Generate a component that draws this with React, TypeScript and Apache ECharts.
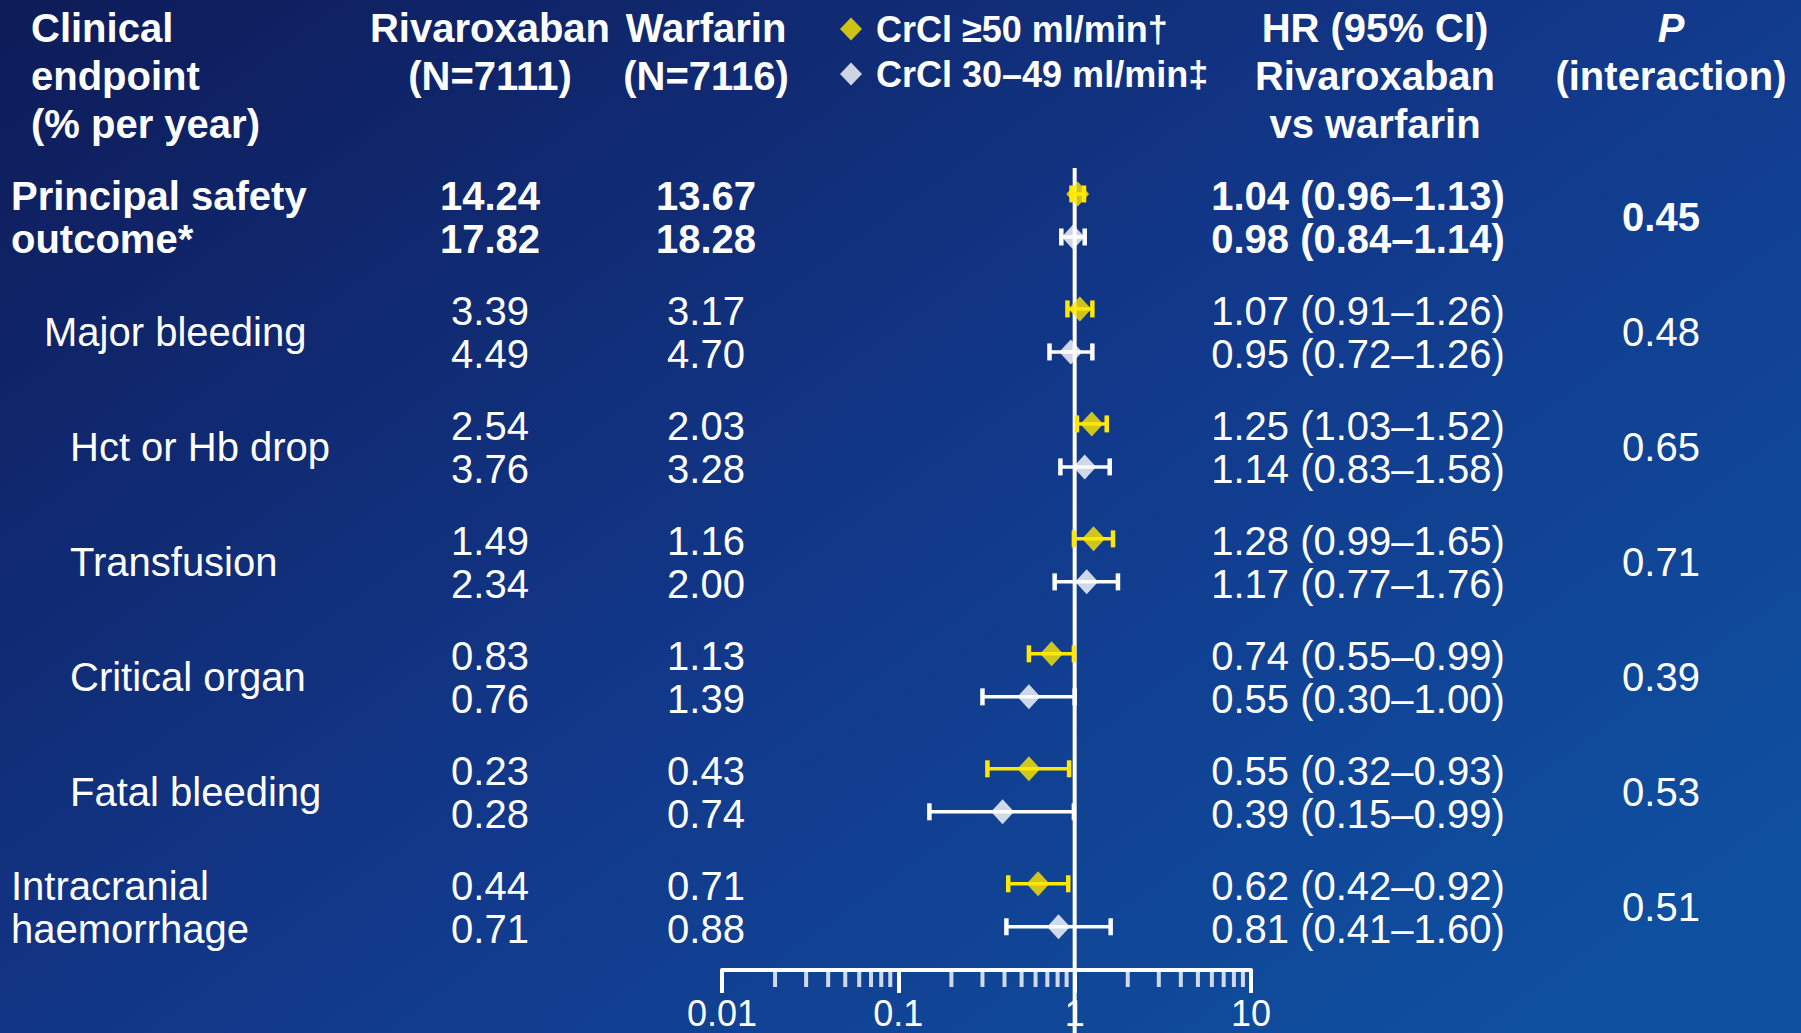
import React, { useEffect, useRef } from 'react';
import * as echarts from 'echarts';

// ---------- data ----------
const endpointLines = [
  ['Principal safety', 'outcome*'],
  ['Major bleeding'],
  ['Hct or Hb drop'],
  ['Transfusion'],
  ['Critical organ'],
  ['Fatal bleeding'],
  ['Intracranial', 'haemorrhage'],
];
const endpointLevel = [0, 1, 2, 2, 2, 2, 0];
const rivaroxabanHigh = ['14.24', '3.39', '2.54', '1.49', '0.83', '0.23', '0.44'];
const rivaroxabanLow = ['17.82', '4.49', '3.76', '2.34', '0.76', '0.28', '0.71'];
const warfarinHigh = ['13.67', '3.17', '2.03', '1.16', '1.13', '0.43', '0.71'];
const warfarinLow = ['18.28', '4.70', '3.28', '2.00', '1.39', '0.74', '0.88'];
const hrHigh = [1.04, 1.07, 1.25, 1.28, 0.74, 0.55, 0.62];
const loHigh = [0.96, 0.91, 1.03, 0.99, 0.55, 0.32, 0.42];
const hiHigh = [1.13, 1.26, 1.52, 1.65, 0.99, 0.93, 0.92];
const hrLow = [0.98, 0.95, 1.14, 1.17, 0.55, 0.39, 0.81];
const loLow = [0.84, 0.72, 0.83, 0.77, 0.3, 0.15, 0.41];
const hiLow = [1.14, 1.26, 1.58, 1.76, 1.0, 0.99, 1.6];
const pInteraction = ['0.45', '0.48', '0.65', '0.71', '0.39', '0.53', '0.51'];
const minorTicks = [
  0.02, 0.03, 0.04, 0.05, 0.06, 0.07, 0.08, 0.09,
  0.2, 0.3, 0.4, 0.5, 0.6, 0.7, 0.8, 0.9,
  2, 3, 4, 5, 6, 7, 8, 9,
];
const seriesNames = ['CrCl \u226550 ml/min\u2020', 'CrCl 30\u201349 ml/min\u2021'];

// ---------- layout/style ----------
const FONT = '"Liberation Sans", Arial, Helvetica, sans-serif';
const YELLOW = '#ffe800';
const WHITE = '#ffffff';
const PAIR = 0.374;
const Y_MIN = -1;
const Y_MAX = 6.75;
const GRID_TOP = 79;
const GRID_H = 891;

const fmt = (v: number) => v.toFixed(2);
const hrText = (h: number, l: number, u: number) => `${fmt(h)} (${fmt(l)}\u2013${fmt(u)})`;

type TextItem = { x: number; v: number; text: string; align: string; bold: boolean };

function buildTextItems(): TextItem[] {
  const items: TextItem[] = [];
  const levelX = [11, 44, 70];
  endpointLines.forEach((lines, i) => {
    const bold = i === 0;
    if (lines.length === 2) {
      items.push({ x: levelX[endpointLevel[i]], v: i, text: lines[0], align: 'left', bold });
      items.push({ x: levelX[endpointLevel[i]], v: i + PAIR, text: lines[1], align: 'left', bold });
    } else {
      items.push({ x: levelX[endpointLevel[i]], v: i + PAIR / 2, text: lines[0], align: 'left', bold });
    }
    items.push({ x: 490, v: i, text: rivaroxabanHigh[i], align: 'center', bold });
    items.push({ x: 490, v: i + PAIR, text: rivaroxabanLow[i], align: 'center', bold });
    items.push({ x: 706, v: i, text: warfarinHigh[i], align: 'center', bold });
    items.push({ x: 706, v: i + PAIR, text: warfarinLow[i], align: 'center', bold });
    items.push({ x: 1358, v: i, text: hrText(hrHigh[i], loHigh[i], hiHigh[i]), align: 'center', bold });
    items.push({ x: 1358, v: i + PAIR, text: hrText(hrLow[i], loLow[i], hiLow[i]), align: 'center', bold });
    items.push({ x: 1661, v: i + PAIR / 2, text: pInteraction[i], align: 'center', bold });
  });
  return items;
}

function headerText(x: number, y: number, text: string, align: string, italic = false) {
  return {
    type: 'text',
    x,
    y,
    silent: true,
    style: {
      text,
      fill: WHITE,
      fontSize: 40,
      fontWeight: 'bold',
      fontStyle: italic ? 'italic' : 'normal',
      fontFamily: FONT,
      align,
      verticalAlign: 'middle',
    },
  };
}

function errorBarSeries(name: string, lo: number[], hi: number[], offset: number, color: string) {
  return {
    type: 'custom',
    name: name + ' CI',
    xAxisIndex: 0,
    yAxisIndex: 0,
    z: 3,
    silent: true,
    clip: false,
    encode: { x: [0, 1], y: 2 },
    data: lo.map((l, i) => [l, hi[i], i + offset]),
    renderItem: (params: any, api: any) => {
      const a = api.coord([api.value(0), api.value(2)]);
      const b = api.coord([api.value(1), api.value(2)]);
      const cap = 8.5;
      return {
        type: 'group',
        children: [
          { type: 'line', shape: { x1: a[0], y1: a[1], x2: b[0], y2: b[1] }, style: { stroke: color, lineWidth: 3.5 } },
          { type: 'line', shape: { x1: a[0], y1: a[1] - cap, x2: a[0], y2: a[1] + cap }, style: { stroke: color, lineWidth: 4.5 } },
          { type: 'line', shape: { x1: b[0], y1: b[1] - cap, x2: b[0], y2: b[1] + cap }, style: { stroke: color, lineWidth: 4.5 } },
        ],
      };
    },
  };
}

export default function App() {
  const ref = useRef<HTMLDivElement>(null);

  useEffect(() => {
    if (!ref.current) return;
    const chart = echarts.init(ref.current, undefined, { renderer: 'svg' });
    const textItems = buildTextItems();

    const option: any = {
      animation: false,
      backgroundColor: new echarts.graphic.LinearGradient(0, 0, 1, 0.8, [
        { offset: 0, color: '#0e1b58' },
        { offset: 0.55, color: '#12388a' },
        { offset: 1, color: '#0f4fa0' },
      ]),
      legend: {
        orient: 'vertical',
        left: 835,
        top: 3,
        itemWidth: 22,
        itemHeight: 23,
        itemGap: 3,
        icon: 'diamond',
        selectedMode: false,
        data: seriesNames,
        textStyle: {
          color: WHITE,
          fontSize: 36,
          fontWeight: 'bold',
          fontFamily: FONT,
          lineHeight: 42,
          padding: [0, 0, 0, 9],
        },
      },
      grid: [
        { left: 722, width: 529, top: GRID_TOP, height: GRID_H },
        { left: 0, width: 1801, top: GRID_TOP, height: GRID_H },
      ],
      xAxis: [
        {
          type: 'log',
          logBase: 10,
          min: 0.01,
          max: 10,
          gridIndex: 0,
          position: 'bottom',
          splitLine: { show: false },
          axisLine: { show: true, onZero: false, lineStyle: { color: WHITE, width: 4 } },
          axisTick: { show: true, length: 23, lineStyle: { color: WHITE, width: 4 } },
          minorTick: { show: false },
          axisLabel: {
            color: WHITE,
            fontSize: 36,
            lineHeight: 36,
            fontFamily: FONT,
            margin: 25,
            formatter: (v: number) => String(parseFloat(Number(v).toPrecision(3))),
          },
        },
        {
          type: 'value',
          min: 0,
          max: 1801,
          gridIndex: 1,
          show: false,
        },
      ],
      yAxis: [
        { type: 'value', min: Y_MIN, max: Y_MAX, inverse: true, gridIndex: 0, show: false },
        { type: 'value', min: Y_MIN, max: Y_MAX, inverse: true, gridIndex: 1, show: false },
      ],
      graphic: [
        headerText(31, 28, 'Clinical', 'left'),
        headerText(31, 76, 'endpoint', 'left'),
        headerText(31, 124, '(% per year)', 'left'),
        headerText(490, 28, 'Rivaroxaban', 'center'),
        headerText(490, 76, '(N=7111)', 'center'),
        headerText(706, 28, 'Warfarin', 'center'),
        headerText(706, 76, '(N=7116)', 'center'),
        headerText(1375, 28, 'HR (95% CI)', 'center'),
        headerText(1375, 76, 'Rivaroxaban', 'center'),
        headerText(1375, 124, 'vs warfarin', 'center'),
        headerText(1671, 28, 'P', 'center', true),
        headerText(1671, 76, '(interaction)', 'center'),
      ],
      series: [
        {
          type: 'line',
          name: 'no effect',
          xAxisIndex: 0,
          yAxisIndex: 0,
          data: [
            [1, -0.226],
            [1, 7.3],
          ],
          symbol: 'none',
          clip: false,
          silent: true,
          z: 1,
          lineStyle: { color: WHITE, width: 4 },
        },
        {
          type: 'scatter',
          name: 'minor ticks',
          xAxisIndex: 0,
          yAxisIndex: 0,
          data: minorTicks.map((t) => [t, Y_MAX]),
          symbol: 'rect',
          symbolSize: [4, 15],
          symbolOffset: [0, 9.5],
          clip: false,
          silent: true,
          z: 1,
          itemStyle: { color: WHITE },
        },
        errorBarSeries(seriesNames[0], loHigh, hiHigh, 0, YELLOW),
        errorBarSeries(seriesNames[1], loLow, hiLow, PAIR, WHITE),
        {
          type: 'scatter',
          name: seriesNames[0],
          xAxisIndex: 0,
          yAxisIndex: 0,
          data: hrHigh.map((h, i) => [h, i]),
          symbol: 'diamond',
          symbolSize: [23, 25],
          clip: false,
          z: 5,
          itemStyle: { color: YELLOW },
        },
        {
          type: 'scatter',
          name: seriesNames[1],
          xAxisIndex: 0,
          yAxisIndex: 0,
          data: hrLow.map((h, i) => [h, i + PAIR]),
          symbol: 'diamond',
          symbolSize: [23, 25],
          clip: false,
          z: 5,
          itemStyle: { color: WHITE },
        },
        {
          type: 'custom',
          name: 'table',
          xAxisIndex: 1,
          yAxisIndex: 1,
          silent: true,
          clip: false,
          encode: { x: 0, y: 1 },
          data: textItems.map((t) => [t.x, t.v]),
          renderItem: (params: any, api: any) => {
            const t = textItems[params.dataIndex];
            const p = api.coord([api.value(0), api.value(1)]);
            return {
              type: 'text',
              x: p[0],
              y: p[1] + 2,
              style: {
                text: t.text,
                fill: WHITE,
                fontSize: 40,
                fontWeight: t.bold ? 'bold' : 'normal',
                fontFamily: FONT,
                align: t.align,
                verticalAlign: 'middle',
              },
            };
          },
        },
      ],
    };

    chart.setOption(option);
    return () => chart.dispose();
  }, []);

  return (
    <div
      ref={ref}
      style={{ position: 'fixed', left: 0, top: 0, width: 1801, height: 1033 }}
    />
  );
}
